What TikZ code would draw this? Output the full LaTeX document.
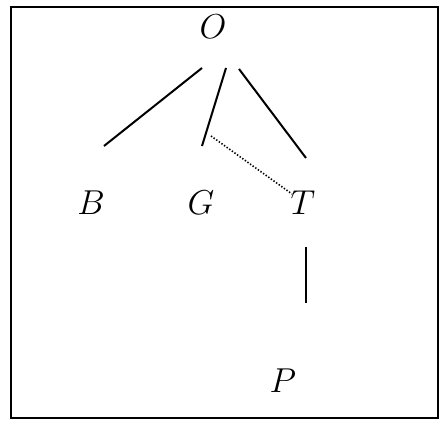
\documentclass[tikz,border=0pt]{standalone}
\usepackage{amsmath,amssymb}
\usepackage{tikz}
\usepackage{xcolor}
\usetikzlibrary{calc}
\definecolor{InkBlack}{RGB}{0,0,0}
\tikzset{
  lbl/.style={font=\fontsize{16.5}{19}\selectfont,inner sep=0pt},
  edge/.style={InkBlack,line width=1pt},
  weak/.style={InkBlack,line width=0.8pt,dash pattern=on 0.7pt off 0.9pt}
}

\begin{document}
\begin{tikzpicture}[x=0.5pt,y=-0.5pt]
        \useasboundingbox (0,0) rectangle (440,421);
        \draw[InkBlack,line width=1pt] (11,7) rectangle (438,418);
        % Labels
        \node[lbl] (O) at (213,27) {$O$};
        \node[lbl] (B) at (91,203) {$B$};
        \node[lbl] (G) at (201,203) {$G$};
        \node[lbl] (T) at (303,203) {$T$};
        \node[lbl] (P) at (283,381) {$P$};
        % Branches from O
        \draw[edge] ($(O)+(-11,41)$) -- ($(B)+(13,-57)$);
        \draw[edge] ($(O)+(13,41)$) -- ($(G)+(1,-57)$);
        \draw[edge] ($(O)+(26,42)$) -- ($(T)+(3,-45)$);
        % Dotted link G..T
        \draw[weak] ($(G)+(10,-67)$) -- ($(T)+(-11,-9)$);
        % T down to P
        \draw[edge] ($(T)+(3,44)$) -- ($(P)+(23,-78)$);
      \end{tikzpicture}
\end{document}
